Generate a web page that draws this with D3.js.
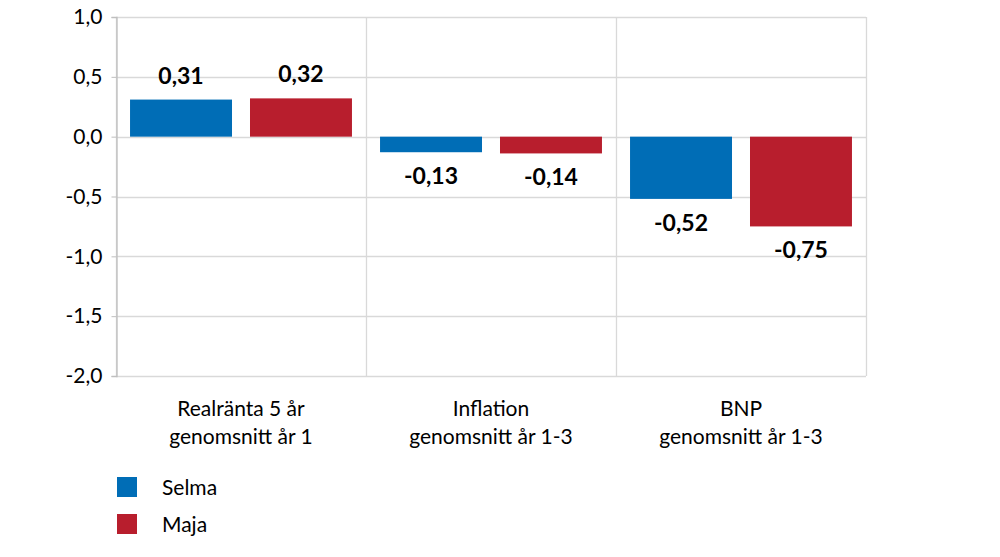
<!DOCTYPE html>
<html>
<head>
<meta charset="utf-8">
<script src="https://cdn.jsdelivr.net/npm/d3@7"></script>
<style>
  body { margin: 0; background: #fff; }
  text { font-family: Lato, "Open Sans", sans-serif; fill: #000; }
</style>
</head>
<body>
<svg id="chart" width="1000" height="557"></svg>
<script>
var categories = [["Realränta 5 år", "genomsnitt år 1"], ["Inflation", "genomsnitt år 1-3"], ["BNP", "genomsnitt år 1-3"]];
var seriesNames = ["Selma", "Maja"];
var selma = [0.31, -0.13, -0.52];
var maja = [0.32, -0.14, -0.75];
var yTicks = [1.0, 0.5, 0.0, -0.5, -1.0, -1.5, -2.0];
var colors = ["#006db6", "#b81e2d"];

var svg = d3.select('#chart');
var plotL = 116, plotR = 866, plotT = 17, plotB = 376;

var x = d3.scaleBand().domain(d3.range(categories.length)).range([plotL, plotR]);
var xInner = d3.scaleBand().domain(d3.range(seriesNames.length))
    .range([0, x.bandwidth()]).paddingInner(0.15).paddingOuter(0.117);
var y = d3.scaleLinear().domain([-2, 1]).range([plotB, plotT]);

var fmt = function(v, d) { return v.toFixed(d).replace('.', ','); };

// grid
svg.append('g').selectAll('line').data(yTicks).enter().append('line')
    .attr('x1', plotL).attr('x2', plotR)
    .attr('y1', function(d) { return Math.round(y(d)) + 0.5; })
    .attr('y2', function(d) { return Math.round(y(d)) + 0.5; })
    .attr('stroke', '#d9d9d9').attr('stroke-width', 1.3);
svg.append('g').selectAll('line').data(d3.range(categories.length + 1)).enter().append('line')
    .attr('x1', function(d) { return plotL + d * x.step() + 0.5; })
    .attr('x2', function(d) { return plotL + d * x.step() + 0.5; })
    .attr('y1', plotT).attr('y2', plotB)
    .attr('stroke', '#d9d9d9').attr('stroke-width', 1.3);

// y axis
var yAxis = d3.axisLeft(y).tickValues(yTicks).tickSize(5).tickPadding(9)
    .tickFormat(function(d) { return fmt(d, 1); });
var ya = svg.append('g').attr('transform', 'translate(' + (plotL + 0.5) + ',0)').call(yAxis);
ya.select('.domain').attr('stroke', '#bfbfbf').attr('stroke-width', 1.3);
ya.selectAll('.tick line').attr('stroke', '#bfbfbf');
ya.selectAll('.tick text').attr('font-size', 21).style('font-family', 'Lato, sans-serif').attr('fill', '#000');

// bars
var data = [];
categories.forEach(function(c, i) {
    [selma, maja].forEach(function(s, j) { data.push({c: i, s: j, v: s[i]}); });
});

svg.append('g').selectAll('rect').data(data).enter().append('rect')
    .attr('x', function(d) { return x(d.c) + xInner(d.s); })
    .attr('width', xInner.bandwidth())
    .attr('y', function(d) { return y(Math.max(0, d.v)); })
    .attr('height', function(d) { return Math.abs(y(d.v) - y(0)); })
    .attr('fill', function(d) { return colors[d.s]; });

svg.append('g').selectAll('text').data(data).enter().append('text')
    .attr('x', function(d) { return x(d.c) + xInner(d.s) + xInner.bandwidth() / 2; })
    .attr('y', function(d) { return d.v >= 0 ? y(d.v) - 16 : y(d.v) + 32; })
    .attr('text-anchor', 'middle')
    .attr('font-size', 23).attr('font-weight', 'bold')
    .text(function(d) { return fmt(d.v, 2); });

// category labels
var cl = svg.append('g').selectAll('text').data(categories).enter().append('text')
    .attr('text-anchor', 'middle').attr('font-size', 21)
    .attr('x', function(d, i) { return x(i) + x.bandwidth() / 2; });
cl.selectAll('tspan').data(function(d) { return d; }).enter().append('tspan')
    .attr('x', function() { return d3.select(this.parentNode).attr('x'); })
    .attr('y', function(d, i) { return 416 + i * 28; })
    .text(function(d) { return d; });

// legend
var lg = svg.append('g').selectAll('g').data(seriesNames).enter().append('g')
    .attr('transform', function(d, i) { return 'translate(117,' + (477 + i * 37) + ')'; });
lg.append('rect').attr('width', 20).attr('height', 20)
    .attr('fill', function(d, i) { return colors[i]; });
lg.append('text').attr('x', 45).attr('y', 18).attr('font-size', 21)
    .text(function(d) { return d; });
</script>
</body>
</html>
